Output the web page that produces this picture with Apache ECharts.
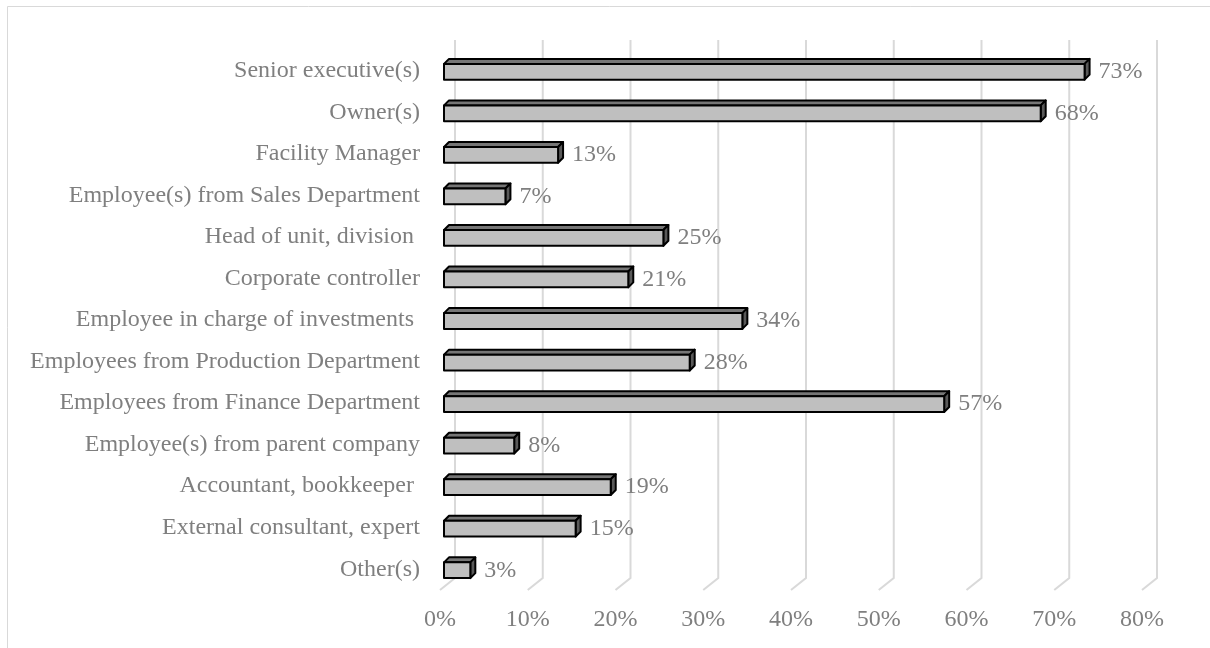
<!DOCTYPE html>
<html>
<head>
<meta charset="utf-8">
<script src="https://cdn.jsdelivr.net/npm/echarts@6/dist/echarts.min.js"></script>
<style>
  html, body { margin: 0; padding: 0; background: #fff; }
  #chart { width: 1210px; height: 648px; }
</style>
</head>
<body>
<div id="chart"></div>
<script>
const categories = [
  "Senior executive(s)",
  "Owner(s)",
  "Facility Manager",
  "Employee(s) from Sales Department",
  "Head of unit, division ",
  "Corporate controller",
  "Employee in charge of investments ",
  "Employees from Production Department",
  "Employees from Finance Department",
  "Employee(s) from parent company",
  "Accountant, bookkeeper ",
  "External consultant, expert",
  "Other(s)"
];
const shares = [73, 68, 13, 7, 25, 21, 34, 28, 57, 8, 19, 15, 3];
const ticks = [0, 10, 20, 30, 40, 50, 60, 70, 80];

const textGray = "#7f7f7f";
const fontSize = 24;
const font = fontSize + "px 'Liberation Serif', 'Times New Roman', serif";

// 3D depth offsets (Excel-style oblique projection)
const barDepth = 5;
const barShift = 4;
const wallDx = 15, wallDy = 12;

const chart = echarts.init(document.getElementById("chart"));

function renderGrid(params, api) {
  const cs = params.coordSys;
  const x = api.coord([api.value(0), 0])[0];
  const top = cs.y - 10;
  const bottom = cs.y + cs.height;
  return {
    type: "polyline",
    shape: { points: [[x + wallDx, top], [x + wallDx, bottom - wallDy], [x, bottom]] },
    style: { stroke: "#d9d9d9", lineWidth: 2, fill: null },
    silent: true
  };
}

function renderBar(params, api) {
  const v = api.value(0);
  const idx = api.value(1);
  const end = api.coord([v, idx]);
  const start = api.coord([0, idx]);
  const h = api.size([0, 1])[1] * 0.19;
  const x0 = start[0] + barShift, x1 = end[0] + barShift;
  const yt = end[1] - h + 1, yb = end[1] + h + 1;
  const d = barDepth;
  const edge = { stroke: "#000", lineWidth: 2, lineJoin: "round" };
  return {
    type: "group",
    children: [
      { type: "polygon", shape: { points: [[x0, yt], [x1, yt], [x1 + d, yt - d], [x0 + d, yt - d]] },
        style: Object.assign({ fill: "#767676" }, edge) },
      { type: "polygon", shape: { points: [[x1, yt], [x1 + d, yt - d], [x1 + d, yb - d], [x1, yb]] },
        style: Object.assign({ fill: "#595959" }, edge) },
      { type: "rect", shape: { x: x0, y: yt, width: x1 - x0, height: yb - yt },
        style: Object.assign({ fill: "#bfbfbf" }, edge) },
      { type: "text", x: x1 + d + 9, y: end[1] + 1,
        style: { text: v + "%", font: font, fill: textGray, verticalAlign: "middle", align: "left" } }
    ]
  };
}

const option = {
  backgroundColor: "#fff",
  animation: false,
  graphic: [{
    type: "rect",
    shape: { x: 7.5, y: 6.5, width: 1230, height: 660 },
    style: { fill: null, stroke: "#d9d9d9", lineWidth: 1 },
    silent: true
  }],
  grid: { left: 440, right: 68, top: 50, bottom: 58 },
  xAxis: {
    type: "value",
    min: 0,
    max: 80,
    interval: 10,
    axisLine: { show: false },
    axisTick: { show: false },
    splitLine: { show: false },
    axisLabel: { color: textGray, fontFamily: "Liberation Serif", fontSize: fontSize, margin: 18, formatter: "{value}%" }
  },
  yAxis: {
    type: "category",
    data: categories,
    inverse: true,
    axisLine: { show: false },
    axisTick: { show: false },
    axisLabel: { color: textGray, fontFamily: "Liberation Serif", fontSize: fontSize, margin: 20 }
  },
  series: [
    {
      type: "custom",
      renderItem: renderGrid,
      data: ticks.map((t) => [t]),
      encode: { x: 0 },
      z: 1
    },
    {
      type: "custom",
      renderItem: renderBar,
      data: shares.map((s, i) => [s, i]),
      encode: { x: 0, y: 1 },
      z: 2
    }
  ]
};

chart.setOption(option);
</script>
</body>
</html>
